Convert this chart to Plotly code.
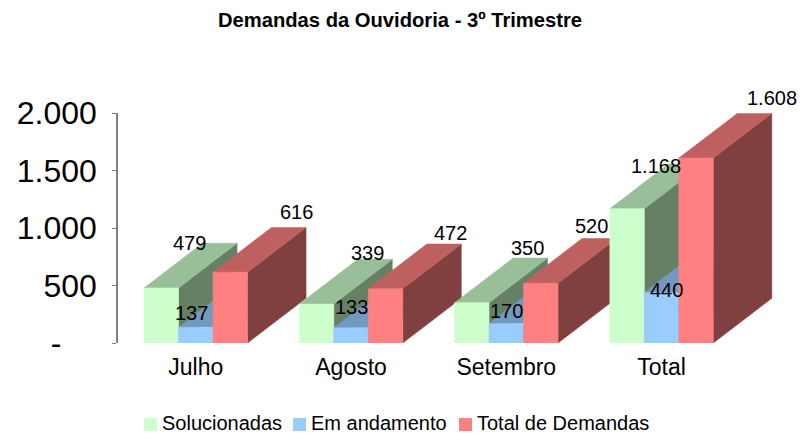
import plotly.graph_objects as go

categories = ["Julho", "Agosto", "Setembro", "Total"]
solucionadas = [479, 339, 350, 1168]
em_andamento = [137, 133, 170, 440]
total_demandas = [616, 472, 520, 1608]
value_labels = {
    "Solucionadas": ["479", "339", "350", "1.168"],
    "Em andamento": ["137", "133", "170", "440"],
    "Total de Demandas": ["616", "472", "520", "1.608"],
}
y_ticks = [0, 500, 1000, 1500, 2000]
y_tick_labels = ["-\u00a0\u00a0\u00a0\u00a0", "500", "1.000", "1.500", "2.000"]

FONT = "Liberation Sans"
# pixel geometry of the plot area
L, R, T, B = 118, 790, 113, 343
GROUP_PX = 155.25
CENTER0_PX = 195.8
PX_PER_VAL = (B - T) / 2000
# oblique depth of the bars
DX = 58.5 / GROUP_PX
DY = 44.7 / PX_PER_VAL
BAR_W = 34.5 / GROUP_PX

series = [
    ("Solucionadas", solucionadas, "#CCFFCC", "#99BF99", "#668066", -1, 144),
    ("Em andamento", em_andamento, "#99CCFF", "#7299BF", "#4D6680", 0, 293),
    ("Total de Demandas", total_demandas, "#FF8080", "#BF6060", "#804040", 1, 459),
]

# manual placement of labels relative to the front-top-centre of each bar (px)
label_shift = {
    "Solucionadas": [(28, 45), (51, 51), (56, 55), (29, 43)],
    "Em andamento": [(-4, 14), (0, 21), (0, 12), (5, 2)],
    "Total de Demandas": [(66, 60), (65, 56), (51, 57), (76, 60)],
}


def face(xs, ys, color):
    return go.Scatter(x=xs, y=ys, mode="lines", fill="toself", fillcolor=color,
                      line=dict(width=0.5, color=color), hoverinfo="skip", showlegend=False)


def px_x(p):
    return (p - L) / (R - L)


def px_y(p):
    return (B - p) / (B - T)


fig = go.Figure()
annotations = []
shapes = []
for g in range(len(categories)):
    for name, vals, front, top, side, pos, _ in series:
        x0 = g + pos * BAR_W - BAR_W / 2
        x1 = x0 + BAR_W
        v = vals[g]
        fig.add_trace(face([x1, x1 + DX, x1 + DX, x1, x1], [0, DY, v + DY, v, 0], side))
        fig.add_trace(face([x0, x0 + DX, x1 + DX, x1, x0], [v, v + DY, v + DY, v, v], top))
        fig.add_trace(face([x0, x1, x1, x0, x0], [0, 0, v, v, 0], front))

for name, vals, front, top, side, pos, leg_px in series:
    shapes.append(dict(type="rect", xref="paper", yref="paper",
                       x0=px_x(leg_px), x1=px_x(leg_px + 13), y0=px_y(431), y1=px_y(418),
                       fillcolor=front, line=dict(width=0)))
    annotations.append(dict(x=px_x(leg_px + 17), y=px_y(422.5), xref="paper", yref="paper",
                            xanchor="left", yanchor="middle", text=name, showarrow=False,
                            borderpad=0,
                            font=dict(family=FONT, size=20, color="#000000")))
    for g, v in enumerate(vals):
        sx, sy = label_shift[name][g]
        annotations.append(dict(x=g + pos * BAR_W, y=v, xref="x", yref="y",
                                text=value_labels[name][g], showarrow=False,
                                xshift=sx, yshift=sy,
                                font=dict(family=FONT, size=20, color="#000000")))

fig.update_layout(
    width=800, height=434,
    margin=dict(l=L, r=800 - R, t=T, b=434 - B, pad=0),
    paper_bgcolor="#FFFFFF", plot_bgcolor="#FFFFFF",
    title=dict(text="<b>Demandas da Ouvidoria - 3º Trimestre</b>", x=400 / 800, xanchor="center",
               y=1 - 20 / 434, yanchor="middle", font=dict(family=FONT, size=20.2, color="#000000")),
    xaxis=dict(range=[(L - CENTER0_PX) / GROUP_PX, (R - CENTER0_PX) / GROUP_PX],
               tickvals=list(range(len(categories))), ticktext=categories,
               showgrid=False, zeroline=False, showline=False, ticks="",
               ticklabelstandoff=8,
               tickfont=dict(family=FONT, size=23, color="#000000")),
    yaxis=dict(range=[0, 2000], tickvals=y_ticks, ticktext=y_tick_labels,
               showgrid=False, zeroline=False, showline=True, linecolor="#808080", linewidth=1.5,
               ticks="outside", ticklen=4, tickcolor="#808080", tickwidth=1,
               ticklabelstandoff=9,
               tickfont=dict(family=FONT, size=32, color="#000000")),
    annotations=annotations,
    shapes=shapes,
    showlegend=False,
)

fig.write_html("out.html", config=dict(displayModeBar=False),
               post_script="document.body.style.margin='0';")
